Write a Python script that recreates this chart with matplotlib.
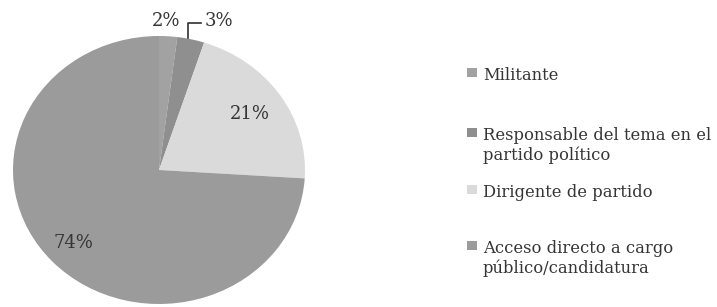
import numpy as np
import matplotlib
matplotlib.use("Agg")
import matplotlib.pyplot as plt
from matplotlib.patches import Rectangle

# datos
categorias = ["Militante",
              "Responsable del tema en el\npartido político",
              "Dirigente de partido",
              "Acceso directo a cargo\npúblico/candidatura"]
porcentajes = [2, 3, 21, 74]
etiquetas = ["2%", "3%", "21%", "74%"]

colores = ["#a2a2a2", "#8f8f8f", "#dadada", "#9b9b9b"]
color_texto = "#353535"

W, H = 717, 307
fig = plt.figure(figsize=(W / 100, H / 100), dpi=100)

# eje del pastel (en pixeles de la imagen: x 13-305, y 36-304)
x0, x1, y0, y1 = 13, 305, 36, 304
ax = fig.add_axes([x0 / W, 1 - y1 / H, (x1 - x0) / W, (y1 - y0) / H])
wedges, _ = ax.pie(porcentajes, colors=colores, startangle=90, counterclock=False,
                   wedgeprops=dict(linewidth=0))
ax.set_aspect("auto")
ax.set_xlim(-1, 1)
ax.set_ylim(-1, 1)
ax.axis("off")

# etiquetas dentro de las porciones grandes
radios = {2: 0.75, 3: 0.80}
for i, r in radios.items():
    w = wedges[i]
    ang = np.deg2rad((w.theta1 + w.theta2) / 2)
    ax.text(r * np.cos(ang), r * np.sin(ang), etiquetas[i], ha="center", va="center",
            fontsize=13, family="DejaVu Serif", color=color_texto)

# etiquetas de las porciones pequeñas, fuera del pastel
ax.text(0.05, 1.11, etiquetas[0], ha="center", va="center", fontsize=13,
        family="DejaVu Serif", color=color_texto, clip_on=False)
ax.text(0.41, 1.11, etiquetas[1], ha="center", va="center", fontsize=13,
        family="DejaVu Serif", color=color_texto, clip_on=False)
ax.plot([0.2, 0.2, 0.29], [0.985, 1.095, 1.095], color="#303030", lw=1.2,
        clip_on=False)

# leyenda manual (cada entrada en un hueco igual)
base_leyenda = [80, 140, 197, 253]
for cat, col, yb in zip(categorias, colores, base_leyenda):
    fig.patches.append(Rectangle((467 / W, 1 - (yb - 3) / H), 10 / W, 9 / H,
                                 transform=fig.transFigure, facecolor=col,
                                 edgecolor="none"))
    for k, linea in enumerate(cat.split("\n")):
        fig.text(483 / W, 1 - (yb + 20 * k) / H, linea, ha="left", va="baseline",
                 fontsize=11.8, family="DejaVu Serif", color=color_texto)

fig.savefig("out.png", dpi=100, facecolor="white")
